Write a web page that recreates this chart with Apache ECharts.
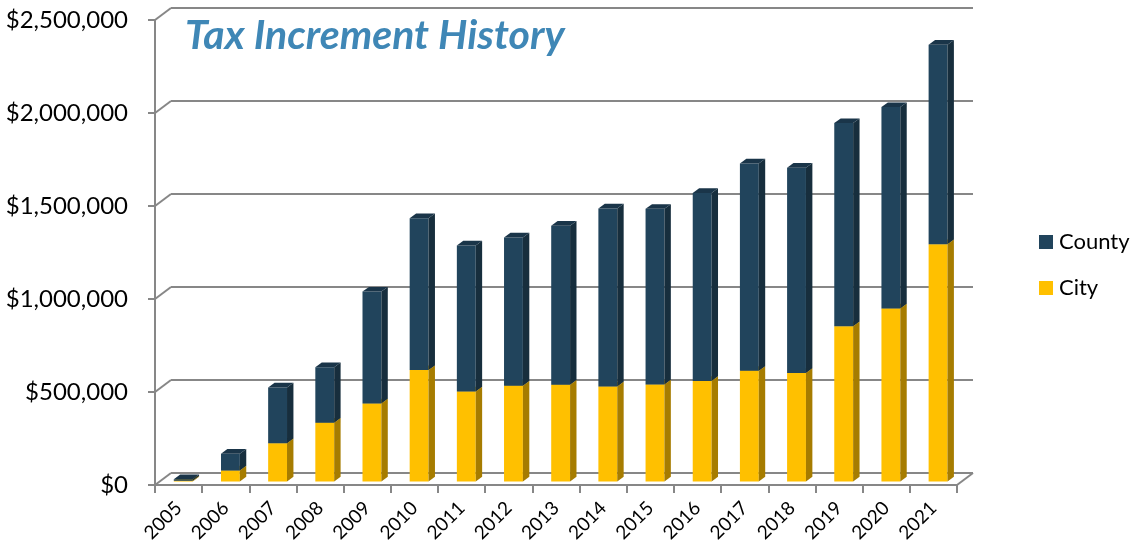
<!DOCTYPE html>
<html>
<head>
<meta charset="utf-8">
<title>Tax Increment History</title>
<script src="https://cdn.jsdelivr.net/npm/echarts@6.0.0/dist/echarts.min.js"></script>
<style>
  html, body { margin: 0; padding: 0; background: #fff; }
  #chart { width: 1141px; height: 546px; }
</style>
</head>
<body>
<div id="chart"></div>
<script>
// values (dollars)
const years = ['2005', '2006', '2007', '2008', '2009', '2010', '2011', '2012', '2013',
  '2014', '2015', '2016', '2017', '2018', '2019', '2020', '2021']
const city = [4000, 59000, 206000, 316000, 419000, 599000, 484000, 515000, 520000,
  511000, 522000, 541000, 595000, 583000, 835000, 930000, 1276000]
const county = [8000, 90000, 299000, 299000, 602000, 817000, 785000, 797000, 855000,
  957000, 944000, 1010000, 1115000, 1104000, 1092000, 1083000, 1072000]
const yTicks = [0, 500000, 1000000, 1500000, 2000000, 2500000]

const GRAY = '#878787'
const FONT = 'Lato'
const front = { left: 155, top: 20, width: 802, height: 465 }
const depth = { x: 16, y: -12 } // offset from front plane to back wall
const barDepth = 0.29 // where the bar faces sit between front and back

const chart = echarts.init(document.getElementById('chart'))

const gridAt = (f) => ({
  left: front.left + depth.x * f,
  top: front.top + depth.y * f,
  width: front.width,
  height: front.height
})

const valueAxis = (idx, extra) => Object.assign({
  type: 'value', gridIndex: idx, min: 0, max: 2500000, interval: 500000,
  axisLabel: { show: false }, axisLine: { show: false }, axisTick: { show: false },
  splitLine: { show: false }
}, extra)

const catAxis = (idx, extra) => Object.assign({
  type: 'category', gridIndex: idx, data: years, boundaryGap: true,
  axisLabel: { show: false }, axisLine: { show: false }, axisTick: { show: false }
}, extra)

// 3d-ish box: front face, side face, top face
const boxRenderer = (frontColor, sideColor, topColor) => (params, api) => {
  const i = api.value(0)
  const lo = api.coord([i, api.value(1)])
  const hi = api.coord([i, api.value(2)])
  const w = api.size([1, 0])[0] * 0.4
  const x0 = lo[0] - w / 2
  const x1 = lo[0] + w / 2
  const dx = w * 0.34
  const dy = w * 0.25
  return {
    type: 'group',
    children: [
      { type: 'polygon', shape: { points: [[x0, hi[1]], [x1, hi[1]], [x1, lo[1]], [x0, lo[1]]] }, style: { fill: frontColor } },
      { type: 'polygon', shape: { points: [[x1, lo[1]], [x1 + dx, lo[1] - dy], [x1 + dx, hi[1] - dy], [x1, hi[1]]] }, style: { fill: sideColor } },
      { type: 'polygon', shape: { points: [[x0, hi[1]], [x0 + dx, hi[1] - dy], [x1 + dx, hi[1] - dy], [x1, hi[1]]] }, style: { fill: topColor } }
    ]
  }
}

// diagonals joining the front axis to the back wall
const wallRenderer = (params, api) => {
  const cs = params.coordSys
  const p = api.coord([0, api.value(1)])
  const lines = [{
    type: 'line',
    shape: { x1: cs.x, y1: p[1], x2: cs.x - depth.x, y2: p[1] - depth.y },
    style: { stroke: GRAY, lineWidth: 2 }
  }]
  if (api.value(1) === 0) {
    const xr = cs.x + cs.width
    lines.push({
      type: 'line',
      shape: { x1: xr, y1: p[1], x2: xr - depth.x, y2: p[1] - depth.y },
      style: { stroke: GRAY, lineWidth: 2 }
    })
  }
  return { type: 'group', children: lines }
}

const option = {
  animation: false,
  title: {
    text: 'Tax Increment History',
    left: 180,
    top: 10,
    textStyle: { color: '#3F87B6', fontFamily: FONT, fontSize: 41, fontWeight: 'bold', fontStyle: 'italic' }
  },
  legend: {
    data: ['County', 'City'],
    orient: 'vertical',
    left: 1034,
    top: 226,
    icon: 'rect',
    itemWidth: 14,
    itemHeight: 14,
    itemGap: 24,
    selectedMode: false,
    textStyle: { color: '#000', fontFamily: FONT, fontSize: 22, padding: [0, 0, 0, 1] }
  },
  grid: [gridAt(0), gridAt(1), gridAt(barDepth)],
  xAxis: [
    catAxis(0, {
      axisLine: { show: true, lineStyle: { color: GRAY, width: 2 } },
      axisTick: { show: true, length: 8, lineStyle: { color: GRAY, width: 2 } },
      axisLabel: { show: true, rotate: 45, margin: 20, color: '#000', fontFamily: FONT, fontSize: 19 }
    }),
    catAxis(1),
    catAxis(2)
  ],
  yAxis: [
    valueAxis(0, {
      axisLine: { show: true, lineStyle: { color: GRAY, width: 2 } },
      axisTick: { show: true, length: 7, lineStyle: { color: GRAY, width: 2 } },
      axisLabel: {
        show: true, margin: 27, color: '#000', fontFamily: FONT, fontSize: 24,
        formatter: (v) => '$' + v.toLocaleString('en-US')
      }
    }),
    valueAxis(1, { splitLine: { show: true, lineStyle: { color: GRAY, width: 2 } } }),
    valueAxis(2)
  ],
  series: [
    {
      name: 'wall',
      type: 'custom',
      xAxisIndex: 1,
      yAxisIndex: 1,
      silent: true,
      renderItem: wallRenderer,
      data: yTicks.map((v) => [0, v])
    },
    {
      name: 'City',
      type: 'custom',
      xAxisIndex: 2,
      yAxisIndex: 2,
      itemStyle: { color: '#FFC000' },
      renderItem: boxRenderer('#FFC000', '#A67C00', '#E0AA00'),
      encode: { x: 0, y: [1, 2] },
      data: city.map((v, i) => [i, 0, v])
    },
    {
      name: 'County',
      type: 'custom',
      xAxisIndex: 2,
      yAxisIndex: 2,
      itemStyle: { color: '#21445C' },
      renderItem: boxRenderer('#21445C', '#172E3D', '#1A3549'),
      encode: { x: 0, y: [1, 2] },
      data: county.map((v, i) => [i, city[i], city[i] + v])
    }
  ]
}

chart.setOption(option)
</script>
</body>
</html>
